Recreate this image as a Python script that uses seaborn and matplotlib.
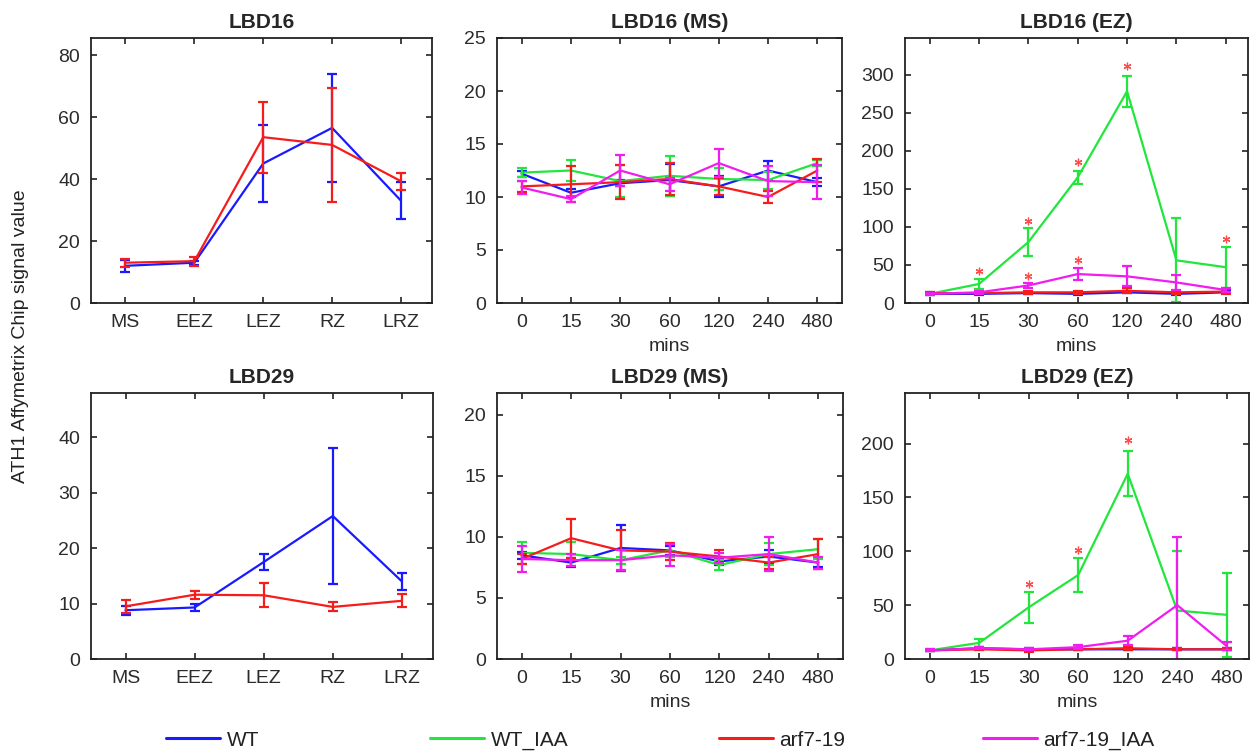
import numpy as np
import pandas as pd
import matplotlib
matplotlib.use("Agg")
import matplotlib.pyplot as plt
import seaborn as sns
from matplotlib.lines import Line2D

# ---------------- data ----------------
zones = ["MS", "EEZ", "LEZ", "RZ", "LRZ"]
times = ["0", "15", "30", "60", "120", "240", "480"]
series_names = ["WT", "WT_IAA", "arf7-19", "arf7-19_IAA"]

# LBD16 along zones
lbd16_wt = [12, 13, 45, 56.5, 33]
lbd16_wt_err = [2, 0.7, 12.3, 17.3, 6]
lbd16_arf = [13, 13.5, 53.5, 51, 39.3]
lbd16_arf_err = [1.3, 1.5, 11.5, 18.5, 2.8]

# LBD29 along zones
lbd29_wt = [8.8, 9.3, 17.5, 25.8, 14.0]
lbd29_wt_err = [0.8, 0.6, 1.4, 12.3, 1.5]
lbd29_arf = [9.5, 11.6, 11.5, 9.4, 10.5]
lbd29_arf_err = [1.2, 0.7, 2.2, 0.8, 1.2]

# LBD16 (MS) time course
lbd16ms_wt = [12.2, 10.4, 11.3, 11.6, 11.0, 12.5, 11.4]
lbd16ms_wt_err = [0.3, 0.4, 0.3, 1.5, 1.0, 0.9, 0.4]
lbd16ms_wtiaa = [12.3, 12.5, 11.5, 12.0, 11.7, 11.6, 13.2]
lbd16ms_wtiaa_err = [0.4, 1.0, 1.5, 1.9, 1.0, 0.8, 0.3]
lbd16ms_arf = [11.0, 11.2, 11.4, 11.7, 11.0, 10.0, 12.5]
lbd16ms_arf_err = [0.5, 1.7, 1.6, 1.5, 0.8, 0.6, 1.1]
lbd16ms_arfiaa = [10.9, 9.8, 12.5, 11.2, 13.2, 11.5, 11.4]
lbd16ms_arfiaa_err = [0.6, 0.3, 1.5, 0.6, 1.3, 1.4, 1.6]

# LBD16 (EZ) time course
lbd16ez_wt = [12, 12, 13, 12, 14, 12, 14]
lbd16ez_wt_err = [1, 1, 1, 1, 1.5, 1, 1.5]
lbd16ez_wtiaa = [12, 25, 80, 165, 278, 56, 47]
lbd16ez_wtiaa_err = [2, 6, 18, 8.5, 20, 55, 27]
lbd16ez_arf = [13, 13, 14, 14, 16, 14, 15]
lbd16ez_arf_err = [1, 1.5, 2, 2, 3.5, 2, 3]
lbd16ez_arfiaa = [12, 14, 23, 38, 35, 27, 17]
lbd16ez_arfiaa_err = [1.5, 2, 3, 8, 13, 10, 3]
lbd16ez_star_idx = [1, 2, 3, 4, 6, 2, 3]
lbd16ez_star_y = [42, 108, 185, 311, 84, 35, 57]

# LBD29 (MS) time course
lbd29ms_wt = [8.5, 7.9, 9.1, 8.9, 8.0, 8.4, 7.9]
lbd29ms_wt_err = [0.3, 0.4, 1.9, 0.4, 0.3, 0.5, 0.4]
lbd29ms_wtiaa = [8.7, 8.6, 8.1, 8.9, 7.7, 8.6, 9.0]
lbd29ms_wtiaa_err = [0.9, 1.0, 0.3, 0.5, 0.4, 0.9, 0.8]
lbd29ms_arf = [8.2, 9.9, 8.9, 8.8, 8.4, 7.9, 8.6]
lbd29ms_arf_err = [0.4, 1.6, 1.7, 0.7, 0.5, 0.5, 1.2]
lbd29ms_arfiaa = [8.2, 8.1, 8.1, 8.5, 8.3, 8.6, 7.9]
lbd29ms_arfiaa_err = [1.1, 0.5, 0.8, 0.9, 0.4, 1.4, 0.5]

# LBD29 (EZ) time course
lbd29ez_wt = [8, 10, 9, 9, 9, 9, 9]
lbd29ez_wt_err = [0.5, 1, 1, 1, 1, 1, 1]
lbd29ez_wtiaa = [8, 15, 48, 78, 172, 45, 41]
lbd29ez_wtiaa_err = [1, 4, 14.5, 15.5, 21, 55, 39]
lbd29ez_arf = [8, 9, 8, 9, 10, 9, 9]
lbd29ez_arf_err = [0.5, 1, 1.5, 1, 2, 1, 1]
lbd29ez_arfiaa = [8, 10, 9, 11, 17, 50, 12]
lbd29ez_arfiaa_err = [1, 1, 1, 2, 4, 63, 4]
lbd29ez_star_idx = [2, 3, 4]
lbd29ez_star_y = [70, 101, 203]

# ---------------- style ----------------
sns.set_style("ticks")
plt.rcParams['font.family'] = ['Liberation Sans', 'DejaVu Sans']

colors = {"WT": "#1a1aff", "WT_IAA": "#22e63c", "arf7-19": "#f51c1c",
          "arf7-19_IAA": "#f01cf0"}
star_color = "#ff4d4d"

fig = plt.figure(figsize=(12.54, 7.53), dpi=100)
W, H = 1254, 753


def add_ax(l, r, t, b):
    return fig.add_axes([l / W, 1 - b / H, (r - l) / W, (b - t) / H])


def draw_series(ax, cats, vals, errs, name):
    df = pd.DataFrame({"pos": np.arange(len(cats)), "value": vals, "err": errs})
    sns.lineplot(data=df, x="pos", y="value", ax=ax, color=colors[name],
                 lw=1.6, errorbar=None, legend=False)
    ax.errorbar(df["pos"], df["value"], yerr=df["err"], fmt="none",
                ecolor=colors[name], elinewidth=1.6, capsize=3.5, capthick=1.6)


def style_ax(ax, cats, ylim, yticks, title, xlabel=None, xmax=None):
    ax.set_xlim(-0.5, xmax if xmax is not None else len(cats) - 0.5)
    ax.set_ylim(*ylim)
    ax.set_xticks(np.arange(len(cats)))
    ax.set_xticklabels(cats)
    ax.set_yticks(yticks)
    ax.tick_params(direction="in", top=True, right=True, length=4, width=1.2,
                   labelsize=14, labelcolor="#2b2b2b", color="#222222")
    ax.tick_params(axis="x", pad=8)
    ax.tick_params(axis="y", pad=8)
    for s in ax.spines.values():
        s.set_linewidth(1.3)
        s.set_color("#222222")
    ax.set_title(title, fontsize=15, fontweight="bold", pad=7)
    ax.set_xlabel(xlabel if xlabel else "", fontsize=14, color="#2b2b2b",
                  labelpad=5)
    ax.set_ylabel("")


def draw_stars(ax, idx, ys):
    ax.plot(idx, ys, ls="none", marker=(6, 2, 0), ms=5.5, mew=0.9,
            color=star_color)


# Row 1
ax1 = add_ax(91, 432, 38, 303)
draw_series(ax1, zones, lbd16_wt, lbd16_wt_err, "WT")
draw_series(ax1, zones, lbd16_arf, lbd16_arf_err, "arf7-19")
style_ax(ax1, zones, (0, 85.5), [0, 20, 40, 60, 80], "LBD16", xmax=4.45)

ax2 = add_ax(497, 842, 38, 303)
for vals, errs, nm in [(lbd16ms_wt, lbd16ms_wt_err, "WT"),
                       (lbd16ms_wtiaa, lbd16ms_wtiaa_err, "WT_IAA"),
                       (lbd16ms_arf, lbd16ms_arf_err, "arf7-19"),
                       (lbd16ms_arfiaa, lbd16ms_arfiaa_err, "arf7-19_IAA")]:
    draw_series(ax2, times, vals, errs, nm)
style_ax(ax2, times, (0, 25), [0, 5, 10, 15, 20, 25], "LBD16 (MS)", "mins")

ax3 = add_ax(905, 1248, 38, 303)
for vals, errs, nm in [(lbd16ez_wt, lbd16ez_wt_err, "WT"),
                       (lbd16ez_wtiaa, lbd16ez_wtiaa_err, "WT_IAA"),
                       (lbd16ez_arf, lbd16ez_arf_err, "arf7-19"),
                       (lbd16ez_arfiaa, lbd16ez_arfiaa_err, "arf7-19_IAA")]:
    draw_series(ax3, times, vals, errs, nm)
draw_stars(ax3, lbd16ez_star_idx, lbd16ez_star_y)
style_ax(ax3, times, (0, 348), [0, 50, 100, 150, 200, 250, 300],
         "LBD16 (EZ)", "mins", xmax=6.45)

# Row 2
ax4 = add_ax(91, 433, 393, 659)
draw_series(ax4, zones, lbd29_wt, lbd29_wt_err, "WT")
draw_series(ax4, zones, lbd29_arf, lbd29_arf_err, "arf7-19")
style_ax(ax4, zones, (0, 48), [0, 10, 20, 30, 40], "LBD29", xmax=4.45)

ax5 = add_ax(497, 843, 393, 659)
for vals, errs, nm in [(lbd29ms_wt, lbd29ms_wt_err, "WT"),
                       (lbd29ms_wtiaa, lbd29ms_wtiaa_err, "WT_IAA"),
                       (lbd29ms_arf, lbd29ms_arf_err, "arf7-19"),
                       (lbd29ms_arfiaa, lbd29ms_arfiaa_err, "arf7-19_IAA")]:
    draw_series(ax5, times, vals, errs, nm)
style_ax(ax5, times, (0, 21.8), [0, 5, 10, 15, 20], "LBD29 (MS)", "mins")

ax6 = add_ax(905, 1249, 393, 659)
for vals, errs, nm in [(lbd29ez_wt, lbd29ez_wt_err, "WT"),
                       (lbd29ez_wtiaa, lbd29ez_wtiaa_err, "WT_IAA"),
                       (lbd29ez_arf, lbd29ez_arf_err, "arf7-19"),
                       (lbd29ez_arfiaa, lbd29ez_arfiaa_err, "arf7-19_IAA")]:
    draw_series(ax6, times, vals, errs, nm)
draw_stars(ax6, lbd29ez_star_idx, lbd29ez_star_y)
style_ax(ax6, times, (0, 247), [0, 50, 100, 150, 200], "LBD29 (EZ)", "mins",
         xmax=6.45)

# Shared y label
fig.text(21 / W, 1 - 336 / H, "ATH1 Affymetrix Chip signal value",
         rotation=90, ha="center", va="center", fontsize=14, color="#222222")

# Legend (four entries spread along the bottom)
leg_x = [166, 430, 719, 983]
for nm, x in zip(series_names, leg_x):
    h = Line2D([], [], color=colors[nm], lw=2.2)
    lg = fig.legend([h], [nm], loc="center left",
                    bbox_to_anchor=(x / W, 1 - 740 / H), frameon=False,
                    fontsize=15, handlelength=2.6, handletextpad=0.3,
                    borderpad=0, borderaxespad=0)
    for t in lg.get_texts():
        t.set_color("#222222")

fig.savefig("out.png", dpi=100)
